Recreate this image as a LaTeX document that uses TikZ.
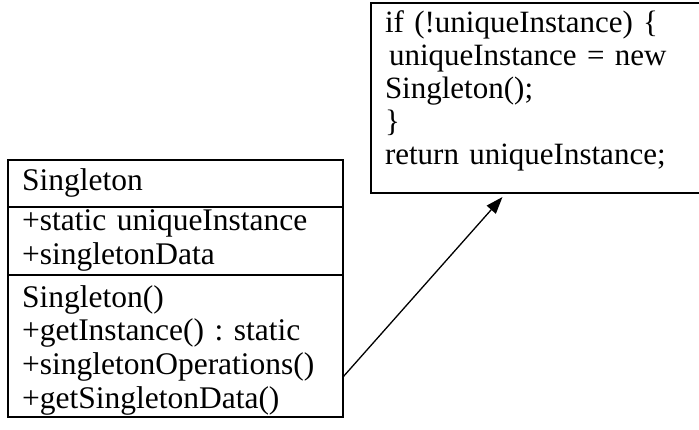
\documentclass[tikz,border=0pt]{standalone}
\usepackage{fontspec}
\setmainfont{Liberation Serif}
\usepackage{tikz}
\usetikzlibrary{
  arrows.meta,
  positioning,
}
\frenchspacing

\begin{document}
\begin{tikzpicture}[
    x=1pt, y=1pt,
    part/.style={draw, line width=1.8pt, anchor=north west, align=left,
                 text width=307pt, inner xsep=14pt, inner ysep=0pt,
                 outer sep=0pt, font=\fontsize{31.5}{33.7}\selectfont},
  ]
  \useasboundingbox (0,0) rectangle (699,429);
  % Singleton class box
  \node[part, text height=30.5pt, text depth=16.5pt] (name) at (8,269) {Singleton};
  \node[part, text height=24pt, text depth=44pt, below=0pt of name] (attrs)
    {+static uniqueInstance\\+singletonData};
  \node[part, text height=32pt, text depth=110pt, below=0pt of attrs] (ops)
    {Singleton()\\+getInstance() : static\\+singletonOperations()\\+getSingletonData()};

  % note with the getInstance body
  \node[part, text height=30pt, text depth=160pt,
        font=\fontsize{31}{32.8}\selectfont] (code) at (371,426)
    {if (!uniqueInstance) {\char`\{}\\
     \hspace{4pt}uniqueInstance = new\\
     Singleton();\\
     {\char`\}}\\
     return uniqueInstance;};

  \draw[-{Triangle[length=17pt,width=12pt]}, line width=1.3pt]
    ([yshift=-31pt]ops.east) -- ([xshift=-36pt,yshift=-4pt]code.south);
\end{tikzpicture}
\end{document}
